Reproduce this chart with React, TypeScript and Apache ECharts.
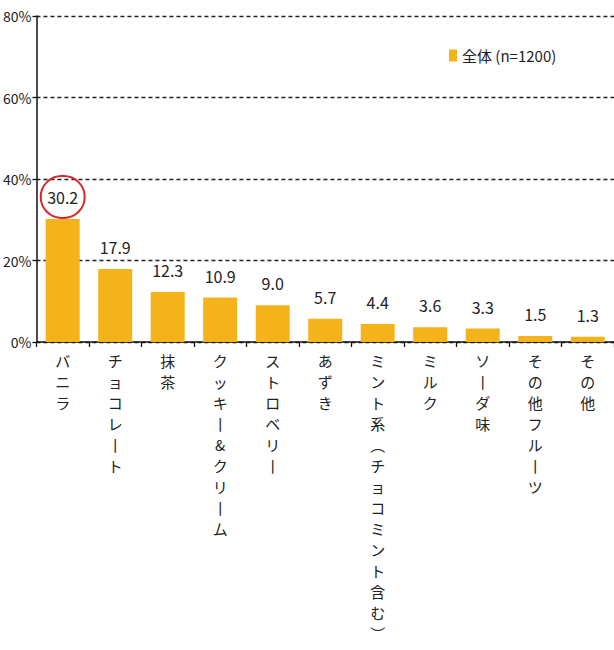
import React, { useEffect, useRef } from "react";
import * as echarts from "echarts";

const categories = [
  "バニラ",
  "チョコレート",
  "抹茶",
  "クッキー&クリーム",
  "ストロベリー",
  "あずき",
  "ミント系（チョコミント含む）",
  "ミルク",
  "ソーダ味",
  "その他フルーツ",
  "その他",
];
const values = [30.2, 17.9, 12.3, 10.9, 9.0, 5.7, 4.4, 3.6, 3.3, 1.5, 1.3];
const seriesName = "全体 (n=1200)";
const highlightIndex = 0;
const yMin = 0;
const yMax = 80;
const yInterval = 20;

const verticalMap: Record<string, string> = {
  "ー": "丨",
  "（": "︵",
  "）": "︶",
};

const toVertical = (s: string) =>
  Array.from(s)
    .map((c) => verticalMap[c] ?? c)
    .join("\n");

const JP = "'Noto Sans CJK JP', 'Noto Sans', sans-serif";
const NUM = "'Liberation Sans Narrow', 'Noto Sans CJK JP', sans-serif";
const BAR = "#F4B31B";

export default function App() {
  const ref = useRef<HTMLDivElement>(null);
  useEffect(() => {
    if (!ref.current) return;
    const chart = echarts.init(ref.current, undefined, { renderer: "svg" });
    const data = values.map((v, i) =>
      i === highlightIndex
        ? {
            value: v,
            label: {
              width: 40,
              height: 40,
              lineHeight: 40,
              borderColor: "#d8262d",
              borderWidth: 2,
              borderRadius: 22,
              padding: [1, 2, 1, 2],
              distance: 1,
            },
          }
        : v
    );
    chart.setOption({
      animation: false,
      backgroundColor: "#ffffff",
      textStyle: { fontFamily: JP },
      legend: {
        left: 444,
        top: 43,
        icon: "rect",
        itemWidth: 8,
        itemHeight: 12,
        itemGap: 4,
        textStyle: { fontSize: 15, color: "#222", fontFamily: JP },
        data: [seriesName],
      },
      grid: { left: 36, right: -3, top: 16, bottom: 308, containLabel: false },
      xAxis: {
        type: "category",
        data: categories,
        axisLine: { lineStyle: { color: "#111", width: 1.5 } },
        axisTick: { show: true, length: 5, lineStyle: { color: "#111", width: 1.3 } },
        axisLabel: {
          interval: 0,
          margin: 8,
          color: "#222",
          fontSize: 15,
          lineHeight: 21,
          fontFamily: JP,
          formatter: (v: string) => toVertical(v),
        },
      },
      yAxis: {
        type: "value",
        min: yMin,
        max: yMax,
        interval: yInterval,
        axisLine: { show: true, lineStyle: { color: "#111", width: 1.5 } },
        axisTick: { show: true, length: 4, lineStyle: { color: "#111", width: 1.3 } },
        axisLabel: {
          formatter: "{value}%",
          color: "#222",
          fontSize: 14,
          margin: 5,
          fontFamily: NUM,
        },
        splitLine: {
          show: true,
          lineStyle: { color: "#222", width: 1.4, type: [4, 3] },
        },
      },
      series: [
        {
          name: seriesName,
          type: "bar",
          data,
          barWidth: 34,
          itemStyle: { color: BAR },
          z: 3,
          label: {
            show: true,
            position: "top",
            distance: 14,
            color: "#222",
            fontSize: 16,
            fontFamily: NUM,
            formatter: (p: any) => Number(p.value).toFixed(1),
          },
        },
      ],
    });
    return () => chart.dispose();
  }, []);
  return (
    <div
      ref={ref}
      style={{ position: "absolute", left: 0, top: 0, width: 614, height: 650 }}
    />
  );
}
